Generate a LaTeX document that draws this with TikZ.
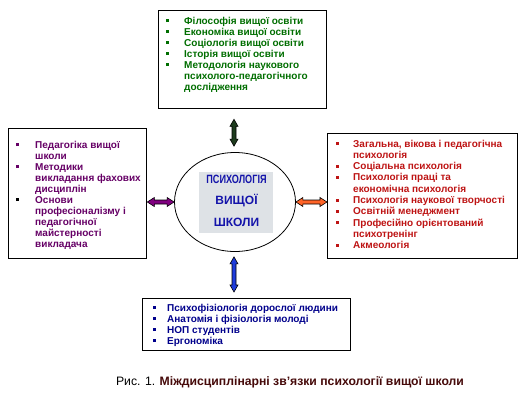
\documentclass[tikz,border=0pt]{standalone}
\usepackage{fontspec}
\setmainfont{Liberation Sans}
\usetikzlibrary{shapes.geometric,calc}
\definecolor{tgreen}{RGB}{0,110,0}
\definecolor{lpurple}{RGB}{102,0,102}
\definecolor{rred}{RGB}{190,20,20}
\definecolor{bblue}{RGB}{0,0,140}
\definecolor{cblue}{RGB}{20,20,170}
\definecolor{cgray}{RGB}{222,226,230}
\definecolor{capred}{RGB}{70,10,10}
\definecolor{arrgreen}{RGB}{30,60,30}
\definecolor{arrpurple}{RGB}{128,0,128}
\definecolor{arrorange}{RGB}{255,100,40}
\definecolor{arrblue}{RGB}{30,60,220}
\newcommand{\sqb}{\rule[2pt]{3pt}{3pt}}
\newcommand{\harr}[3]{\filldraw[draw=black, line width=0.6pt, fill=#3] (#1) -- ($(#1)+(7,-4.5)$) -- ($(#1)+(7,-2)$) -- ($(#2)+(-7,-2)$) -- ($(#2)+(-7,-4.5)$) -- (#2) -- ($(#2)+(-7,4.5)$) -- ($(#2)+(-7,2)$) -- ($(#1)+(7,2)$) -- ($(#1)+(7,4.5)$) -- cycle;}
\newcommand{\varr}[3]{\filldraw[draw=black, line width=0.6pt, fill=#3] (#1) -- ($(#1)+(-4,7)$) -- ($(#1)+(-2,7)$) -- ($(#2)+(-2,-7)$) -- ($(#2)+(-4,-7)$) -- (#2) -- ($(#2)+(4,-7)$) -- ($(#2)+(2,-7)$) -- ($(#1)+(2,7)$) -- ($(#1)+(4,7)$) -- cycle;}
\tikzset{
  box/.style={draw=black, line width=1.3pt, anchor=north west, inner sep=0pt},
  lst/.style={anchor=base west, inner sep=0pt, font=\bfseries\fontsize{10}{11}\selectfont, align=left},
}
\begin{document}
\begin{tikzpicture}[x=1pt,y=-1pt]
\path[use as bounding box, fill=white] (0,0) rectangle (532,402);
% boxes
\node[box, minimum width=168pt, minimum height=98pt] (T) at (158,10) {};
\node[box, minimum width=138pt, minimum height=130pt] (L) at (8,128) {};
\node[box, minimum width=190pt, minimum height=125pt] (R) at (327,133) {};
\node[box, minimum width=208pt, minimum height=52pt] (B) at (142,298) {};
% lists
\node[lst, text=tgreen] (Tt) at (166,24) {%
\begin{tabular}[t]{@{}p{18pt}@{}l@{}}
\sqb & Філософія вищої освіти\\
\sqb & Економіка вищої освіти\\
\sqb & Соціологія вищої освіти\\
\sqb & Історія вищої освіти\\
\sqb & Методологія наукового\\
 & психолого-педагогічного\\
 & дослідження
\end{tabular}};
\node[lst, text=lpurple] (Lt) at (16,148) {%
\begin{tabular}[t]{@{}p{19pt}@{}l@{}}
\sqb & Педагогіка вищої\\
 & школи\\
\sqb & Методики\\
 & викладання фахових\\
 & дисциплін\\
\leavevmode\textcolor{black}{\sqb} & Основи\\
 & професіоналізму і\\
 & педагогічної\\
 & майстерності\\
 & викладача
\end{tabular}};
\node[lst, text=rred, font=\bfseries\fontsize{10}{11.3}\selectfont] (Rt) at (336,147) {%
\begin{tabular}[t]{@{}p{17pt}@{}l@{}}
\sqb & Загальна, вікова і педагогічна\\
 & психологія\\
\sqb & Соціальна психологія\\
\sqb & Психологія праці та\\
 & економічна психологія\\
\sqb & Психологія наукової творчості\\
\sqb & Освітній менеджмент\\
\sqb & Професійно орієнтований\\
 & психотренінг\\
\sqb & Акмеологія
\end{tabular}};
\node[lst, text=bblue] (Bt) at (153,311) {%
\begin{tabular}[t]{@{}p{14pt}@{}l@{}}
\sqb & Психофізіологія дорослої людини\\
\sqb & Анатомія і фізіологія молоді\\
\sqb & НОП студентів\\
\sqb & Ергономіка
\end{tabular}};
% centre
\node[ellipse, draw=black, line width=0.8pt, minimum width=121pt, minimum height=99pt, inner sep=0pt] (c) at (235,202) {};
\node[fill=cgray, minimum width=74pt, minimum height=61pt, inner sep=0pt] (g) at (236,202.5) {};
\node[text=cblue, font=\bfseries\fontsize{12}{14}\selectfont, inner sep=0pt] (g1) at (236.5,179.5) {\scalebox{0.76}[1]{ПСИХОЛОГІЯ}};
\node[text=cblue, font=\bfseries\fontsize{12}{14}\selectfont, inner sep=0pt] (g2) at (236.5,201) {ВИЩОЇ};
\node[text=cblue, font=\bfseries\fontsize{12}{14}\selectfont, inner sep=0pt] (g3) at (236.5,222) {ШКОЛИ};
% arrows
\coordinate (la) at (L.east |- c);
\coordinate (ra) at (R.west |- c);
\coordinate (ta) at ($(c.north |- T.south)+(-1,10)$);
\coordinate (tb) at ($(c.north)+(-1,-6)$);
\coordinate (ba) at ($(c.south)+(-1,5)$);
\coordinate (bb) at ($(c.south |- B.north)+(-1,-6)$);
\harr{la}{c.west}{arrpurple}
\harr{c.east}{ra}{arrorange}
\varr{ta}{tb}{arrgreen}
\varr{ba}{bb}{arrblue}
% caption
\node[anchor=base, inner sep=0pt, font=\fontsize{12.2}{14}\selectfont] (cap) at (290,385) {Рис. 1. {\bfseries\color{capred}Міждисциплінарні зв’язки психології вищої школи}};
\end{tikzpicture}
\end{document}
